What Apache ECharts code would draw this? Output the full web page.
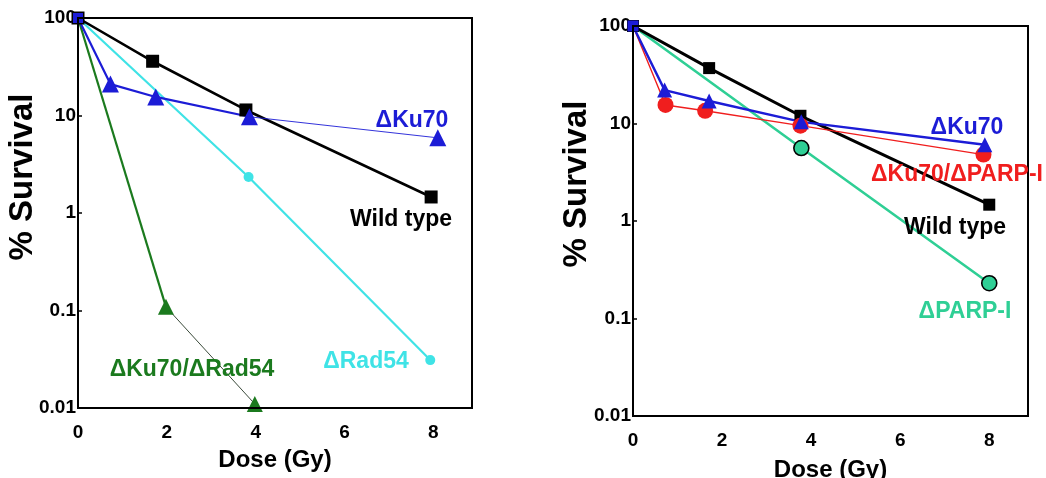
<!DOCTYPE html>
<html><head><meta charset="utf-8">
<script src="https://cdn.jsdelivr.net/npm/echarts@6/dist/echarts.min.js"></script>
<style>html,body{margin:0;padding:0;background:#fff}#c{width:1046px;height:478px}</style>
</head><body><div id="c"></div>
<script>
// ---- Data (dose in Gy, % survival) ----
const xTicks = [0, 2, 4, 6, 8];
const yTicks = [0.01, 0.1, 1, 10, 100];
// Left panel
const L_wt_x = [0, 1.68, 3.78, 7.95];
const L_wt_y = [100, 36, 11.4, 1.46];
const L_ku70_x = [0, 0.73, 1.75, 3.86, 8.1];
const L_ku70_y = [100, 21, 15.5, 9.7, 5.9];
const L_rad54_x = [0, 3.84, 7.93];
const L_rad54_y = [100, 2.34, 0.031];
const L_dbl_x = [0, 1.98, 3.98];
const L_dbl_y = [100, 0.109, 0.011];
// Right panel
const R_wt_x = [0, 1.71, 3.76, 8.0];
const R_wt_y = [100, 37, 12, 1.47];
const R_ku70_x = [0, 0.71, 1.71, 3.78, 7.9];
const R_ku70_y = [100, 22, 17, 10.4, 6.05];
const R_kuparp_x = [0, 0.73, 1.62, 3.76, 7.87];
const R_kuparp_y = [100, 15.5, 13.5, 9.5, 4.8];
const R_parp_x = [0, 3.78, 8.0];
const R_parp_y = [100, 5.6, 0.23];

// build [x,y] points; optionally hide the marker on the shared 100% origin point
const pts = (xs, ys, hideFirst) => xs.map((x, i) =>
  (hideFirst && i === 0) ? { value: [x, ys[i]], symbol: 'none' } : [x, ys[i]]);

const C = {
  black: '#000000', blue: '#1c1cd6', cyan: '#3fe3e6', dgreen: '#1b7a1e',
  red: '#f01e1e', teal: '#2fcf95'
};
const FONT = 'Liberation Sans, Arial, Helvetica, sans-serif';

function xAxis(gi, nameGap) {
  return {
    type: 'value', gridIndex: gi, min: 0, max: 8.87, interval: 2,
    name: 'Dose (Gy)', nameLocation: 'middle', nameGap: nameGap,
    nameTextStyle: { fontFamily: FONT, fontWeight: 'bold', fontSize: 24, color: '#000' },
    axisLine: { show: false }, axisTick: { show: false }, splitLine: { show: false },
    axisLabel: {
      margin: 15, fontFamily: FONT, fontWeight: 'bold', fontSize: 19, color: '#000',
      formatter: v => (xTicks.indexOf(v) >= 0 ? String(v) : '')
    }
  };
}
function yAxis(gi) {
  return {
    type: 'log', logBase: 10, gridIndex: gi, min: 0.01, max: 100,
    axisLine: { show: false },
    axisTick: { show: true, inside: true, length: 4, lineStyle: { color: '#000', width: 1.5 } },
    splitLine: { show: false },
    minorTick: { show: false },
    axisLabel: {
      margin: 2, fontFamily: FONT, fontWeight: 'bold', fontSize: 19, color: '#000',
      formatter: v => {
        const m = yTicks.find(t => Math.abs(Math.log10(t) - Math.log10(v)) < 1e-6);
        return m !== undefined ? String(m) : '';
      }
    }
  };
}
function line(gi, data, color, width, symbol, size, extra) {
  return Object.assign({
    type: 'line', xAxisIndex: gi, yAxisIndex: gi, data: data,
    symbol: symbol, symbolSize: size, showSymbol: symbol !== 'none',
    lineStyle: { color: color, width: width },
    itemStyle: { color: color },
    animation: false, z: 3
  }, extra || {});
}
const onlyMarks = { lineStyle: { width: 0 } };

const series = [
  // Left panel
  line(0, pts(L_rad54_x, L_rad54_y, true), C.cyan, 2.2, 'circle', 10),
  line(0, pts(L_dbl_x.slice(0, 2), L_dbl_y.slice(0, 2)), C.dgreen, 2.2, 'none', 0),
  line(0, pts(L_dbl_x.slice(1), L_dbl_y.slice(1)), '#3a4a3a', 1, 'none', 0),
  line(0, pts(L_dbl_x.slice(1), L_dbl_y.slice(1)), C.dgreen, 0, 'triangle', 16, onlyMarks),
  line(0, pts(L_wt_x, L_wt_y), C.black, 2.6, 'rect', 13),
  line(0, pts(L_ku70_x.slice(0, 4), L_ku70_y.slice(0, 4)), C.blue, 2.2, 'none', 0),
  line(0, pts(L_ku70_x.slice(3), L_ku70_y.slice(3)), C.blue, 0.9, 'none', 0),
  line(0, pts(L_ku70_x.slice(1), L_ku70_y.slice(1)), C.blue, 0, 'triangle', 17, onlyMarks),
  line(0, pts(L_ku70_x.slice(0, 1), L_ku70_y.slice(0, 1)), C.blue, 0, 'rect', 10, onlyMarks),
  // Right panel
  line(1, pts(R_parp_x, R_parp_y, true), C.teal, 2.6, 'circle', 15,
    { itemStyle: { color: C.teal, borderColor: '#000', borderWidth: 1.6 } }),
  line(1, pts(R_wt_x, R_wt_y), C.black, 3, 'rect', 12),
  line(1, pts(R_kuparp_x, R_kuparp_y, true), C.red, 1.4, 'circle', 16),
  line(1, pts(R_ku70_x, R_ku70_y, true), C.blue, 2.4, 'triangle', 15),
  line(1, pts(R_ku70_x.slice(0, 1), R_ku70_y.slice(0, 1)), C.blue, 0, 'rect', 11, onlyMarks)
];

const textEl = (x, y, text, color) => ({
  type: 'text', x: x, y: y, z: 100,
  style: { text: text, fill: color, font: 'bold 23px ' + FONT, textAlign: 'center', textVerticalAlign: 'middle' }
});
const yTitle = (x, y) => ({
  type: 'text', x: x, y: y, rotation: Math.PI / 2, z: 100,
  style: { text: '% Survival', fill: '#000', font: 'bold 33px ' + FONT, textAlign: 'center', textVerticalAlign: 'middle' }
});

const chart = echarts.init(document.getElementById('c'), null, { renderer: 'canvas' });
chart.setOption({
  backgroundColor: '#fff',
  animation: false,
  grid: [
    { left: 78, top: 18, width: 394, height: 390, show: true, borderColor: '#000', borderWidth: 2, backgroundColor: 'transparent', z: 4, outerBoundsMode: 'none', containLabel: false },
    { left: 633, top: 26, width: 395, height: 390, show: true, borderColor: '#000', borderWidth: 2, backgroundColor: 'transparent', z: 4, outerBoundsMode: 'none', containLabel: false }
  ],
  xAxis: [xAxis(0, 40), xAxis(1, 42)],
  yAxis: [yAxis(0), yAxis(1)],
  series: series,
  graphic: [
    yTitle(23, 177),
    yTitle(577, 184),
    textEl(412, 121, 'ΔKu70', C.blue),
    textEl(401, 220, 'Wild type', C.black),
    textEl(366, 362, 'ΔRad54', C.cyan),
    textEl(192, 370, 'ΔKu70/ΔRad54', C.dgreen),
    textEl(967, 128, 'ΔKu70', C.blue),
    textEl(957, 175, 'ΔKu70/ΔPARP-I', C.red),
    textEl(955, 228, 'Wild type', C.black),
    textEl(965, 312, 'ΔPARP-I', C.teal)
  ]
});
</script></body></html>
